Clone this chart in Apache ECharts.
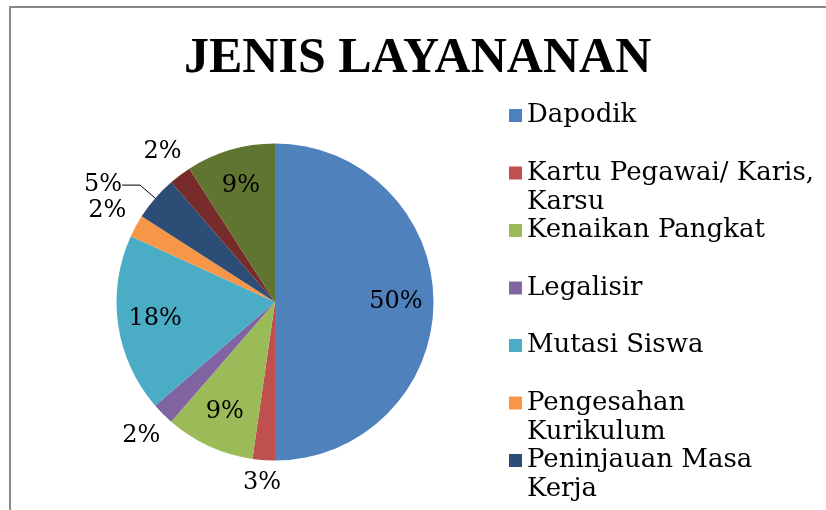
<!DOCTYPE html>
<html>
<head>
<meta charset="utf-8">
<script src="https://cdn.jsdelivr.net/npm/echarts@6/dist/echarts.min.js"></script>
<style>
html, body { margin: 0; padding: 0; background: #fff; }
#main { width: 826px; height: 510px; }
</style>
</head>
<body>
<div id="main"></div>
<script>
// kategori layanan (dua terakhir terpotong di gambar)
var names = ['Dapodik', 'Kartu Pegawai/ Karis, Karsu', 'Kenaikan Pangkat', 'Legalisir', 'Mutasi Siswa',
    'Pengesahan Kurikulum', 'Peninjauan Masa Kerja', 'Lainnya', 'Lain-lain'];
var values = [22, 1, 4, 1, 8, 1, 2, 1, 4];
var colors = ['#4F81BD', '#C0504D', '#9BBB59', '#8064A2', '#4BACC6', '#F79646', '#2C4D75', '#772C2A', '#5F7530'];
// legend yang terlihat, dengan pemenggalan baris
var legendNames = names.slice(0, 7);
var legendLines = ['Dapodik', 'Kartu Pegawai/ Karis,\nKarsu', 'Kenaikan Pangkat', 'Legalisir', 'Mutasi Siswa',
    'Pengesahan\nKurikulum', 'Peninjauan Masa\nKerja'];
var leaderNames = ['Peninjauan Masa Kerja'];

var total = values.reduce(function (a, b) { return a + b; }, 0);
var labelFont = { fontFamily: 'DejaVu Serif', fontSize: 24, color: '#000' };

var cum = 0;
var mainData = names.map(function (n, i) {
    var share = values[i] / total;
    var mid = (cum + values[i] / 2) / total * 2 * Math.PI;
    cum += values[i];
    var lead = leaderNames.indexOf(n) >= 0;
    return {
        name: n,
        value: values[i],
        itemStyle: { color: colors[i] },
        label: { show: share <= 0.08 },
        labelLine: lead ? { show: true, length: 20, length2: 18 }
            : { show: false, length: 22 + 12 * Math.abs(Math.sin(mid)), length2: 0 }
    };
});
var innerData = names.map(function (n, i) {
    return {
        name: n,
        value: values[i],
        label: { show: values[i] / total > 0.08 }
    };
});

var chart = echarts.init(document.getElementById('main'));
chart.setOption({
    backgroundColor: '#fff',
    animation: false,
    color: colors,
    graphic: [{
        type: 'rect',
        silent: true,
        z: -1,
        shape: { x: 10, y: 7, width: 840, height: 530 },
        style: { fill: 'none', stroke: '#898989', lineWidth: 2 }
    }],
    title: {
        text: 'JENIS LAYANANAN',
        left: 184,
        top: 34,
        padding: 0,
        textStyle: { fontFamily: 'Liberation Serif', fontWeight: 'bold', fontSize: 50, color: '#000' }
    },
    legend: {
        orient: 'vertical',
        left: 509,
        top: 101,
        height: 1000,
        padding: 0,
        itemGap: -0.5,
        itemWidth: 13,
        itemHeight: 42,
        // kotak di atas, sejajar baris pertama teks
        icon: 'path://M0,0H13V13H0Z M0,42',
        selectedMode: false,
        data: legendNames,
        formatter: function (n) {
            var t = legendLines[legendNames.indexOf(n)];
            return t.indexOf('\n') >= 0 ? t : t + '\n\u00a0';
        },
        textStyle: { fontFamily: 'DejaVu Serif', fontSize: 26, lineHeight: 29, color: '#000' }
    },
    series: [{
        type: 'pie',
        center: [275, 302],
        radius: 158.5,
        startAngle: 90,
        clockwise: true,
        avoidLabelOverlap: false,
        percentPrecision: 0,
        silent: true,
        label: Object.assign({ position: 'outside', formatter: '{d}%', distanceToLabelLine: 0 }, labelFont),
        labelLine: { lineStyle: { color: '#000', width: 1 } },
        labelLayout: function (p) {
            return leaderNames.indexOf(names[p.dataIndex]) >= 0 ? {} : { align: 'center' };
        },
        data: mainData
    }, {
        type: 'pie',
        center: [275, 302],
        radius: [77.5, 158.5],
        startAngle: 90,
        clockwise: true,
        percentPrecision: 0,
        silent: true,
        itemStyle: { color: 'rgba(0,0,0,0)' },
        label: Object.assign({ position: 'inside', formatter: '{d}%' }, labelFont),
        labelLine: { show: false },
        data: innerData
    }]
});
</script>
</body>
</html>
